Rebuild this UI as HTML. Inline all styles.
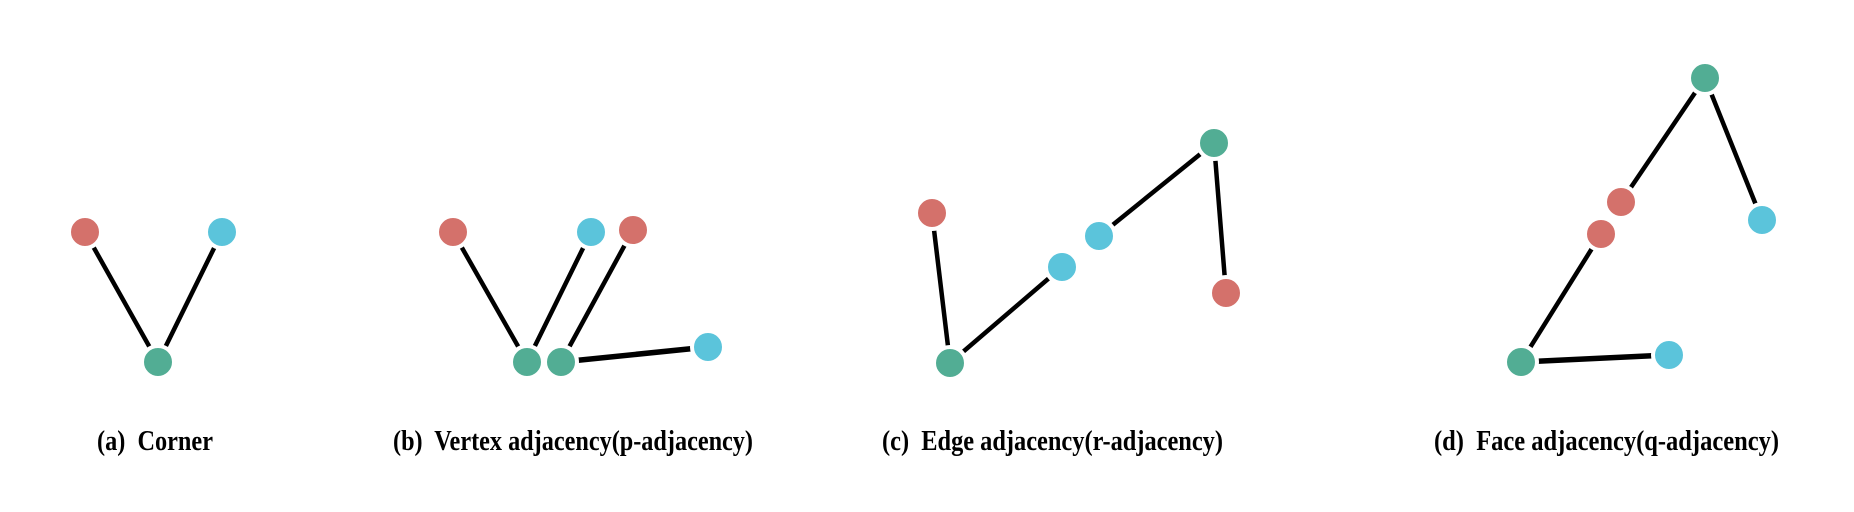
<!DOCTYPE html>
<html><head><meta charset="utf-8"><style>html,body{margin:0;padding:0;background:#fff}svg{display:block}text{white-space:pre}</style></head>
<body>
<svg width="1854" height="512" viewBox="0 0 1854 512" xmlns="http://www.w3.org/2000/svg">
<g stroke="#000" stroke-width="4.5" stroke-linecap="round">
<line x1="85" y1="232" x2="158" y2="362"/>
<line x1="222" y1="232" x2="158" y2="362"/>
<line x1="453" y1="232" x2="527" y2="362"/>
<line x1="591" y1="232" x2="527" y2="362"/>
<line x1="633" y1="230" x2="561" y2="362"/>
<line x1="561" y1="362" x2="708" y2="347" stroke-width="5.5"/>
<line x1="932" y1="213" x2="950" y2="363"/>
<line x1="950" y1="363" x2="1062" y2="267"/>
<line x1="1099" y1="236" x2="1214" y2="143"/>
<line x1="1214" y1="143" x2="1226" y2="293"/>
<line x1="1705" y1="78" x2="1621" y2="202"/>
<line x1="1601" y1="234" x2="1521" y2="362"/>
<line x1="1705" y1="78" x2="1762" y2="220"/>
<line x1="1521" y1="362" x2="1669" y2="355" stroke-width="5.5"/>
</g>
<g stroke="#fff" stroke-width="4">
<circle cx="85" cy="232" r="16" fill="#d4716b"/>
<circle cx="222" cy="232" r="16" fill="#5bc4db"/>
<circle cx="158" cy="362" r="16" fill="#52ad94"/>
<circle cx="453" cy="232" r="16" fill="#d4716b"/>
<circle cx="591" cy="232" r="16" fill="#5bc4db"/>
<circle cx="633" cy="230" r="16" fill="#d4716b"/>
<circle cx="527" cy="362" r="16" fill="#52ad94"/>
<circle cx="561" cy="362" r="16" fill="#52ad94"/>
<circle cx="708" cy="347" r="16" fill="#5bc4db"/>
<circle cx="932" cy="213" r="16" fill="#d4716b"/>
<circle cx="950" cy="363" r="16" fill="#52ad94"/>
<circle cx="1062" cy="267" r="16" fill="#5bc4db"/>
<circle cx="1099" cy="236" r="16" fill="#5bc4db"/>
<circle cx="1214" cy="143" r="16" fill="#52ad94"/>
<circle cx="1226" cy="293" r="16" fill="#d4716b"/>
<circle cx="1705" cy="78" r="16" fill="#52ad94"/>
<circle cx="1621" cy="202" r="16" fill="#d4716b"/>
<circle cx="1601" cy="234" r="16" fill="#d4716b"/>
<circle cx="1762" cy="220" r="16" fill="#5bc4db"/>
<circle cx="1521" cy="362" r="16" fill="#52ad94"/>
<circle cx="1669" cy="355" r="16" fill="#5bc4db"/>
</g>
<g font-family="'Liberation Serif', serif" font-weight="bold" font-size="28" fill="#000">
<text x="97" y="450" textLength="116" lengthAdjust="spacingAndGlyphs">(a)  Corner</text>
<text x="393" y="450" textLength="360" lengthAdjust="spacingAndGlyphs">(b)  Vertex adjacency(p-adjacency)</text>
<text x="882" y="450" textLength="341" lengthAdjust="spacingAndGlyphs">(c)  Edge adjacency(r-adjacency)</text>
<text x="1434" y="450" textLength="345" lengthAdjust="spacingAndGlyphs">(d)  Face adjacency(q-adjacency)</text>
</g>
</svg>
</body></html>
